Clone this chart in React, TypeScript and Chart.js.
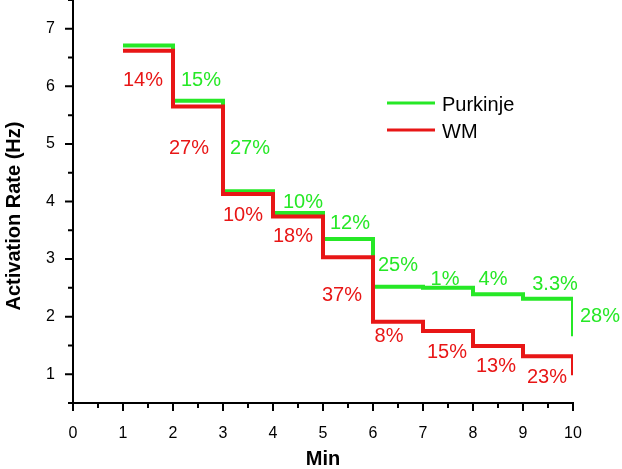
import React, { useEffect, useRef } from 'react';
import { Chart, registerables } from 'chart.js';

Chart.register(...registerables);

// ---- data ----
const minutes = [1, 2, 3, 4, 5, 6, 7, 8, 9, 10];
const purkinjeRates = [6.71, 5.75, 4.18, 3.8, 3.35, 2.52, 2.5, 2.39, 2.31, 1.66];
const wmRates = [6.62, 5.65, 4.13, 3.74, 3.03, 1.91, 1.75, 1.49, 1.31, 0.98];

const purkinjeDropLabels = ['15%', '27%', '10%', '12%', '25%', '1%', '4%', '3.3%', '28%'];
const purkinjeLabelMin = [2.56, 3.54, 4.6, 5.54, 6.5, 7.44, 8.4, 9.64, 10.54];
const purkinjeLabelRate = [6.13, 4.95, 4.01, 3.64, 2.91, 2.67, 2.67, 2.58, 2.04];

const wmDropLabels = ['14%', '27%', '10%', '18%', '37%', '8%', '15%', '13%', '23%'];
const wmLabelMin = [1.4, 2.32, 3.4, 4.4, 5.38, 6.32, 7.48, 8.46, 9.48];
const wmLabelRate = [6.13, 4.95, 3.78, 3.42, 2.39, 1.68, 1.4, 1.17, 0.98];

const xTickValues = [0, 1, 2, 3, 4, 5, 6, 7, 8, 9, 10];
const yTickValues = [1, 2, 3, 4, 5, 6, 7];
const xMinorValues = [0.5, 1.5, 2.5, 3.5, 4.5, 5.5, 6.5, 7.5, 8.5, 9.5];
const yMinorValues = [0.5, 1.5, 2.5, 3.5, 4.5, 5.5, 6.5, 7.5];

const seriesNames = ['Purkinje', 'WM'];
const xTitle = 'Min';
const yTitle = 'Activation Rate (Hz)';

const GREEN = 'rgb(38, 232, 38)';
const RED = 'rgb(232, 22, 22)';
const FONT = "'Liberation Sans', Arial, Helvetica, sans-serif";

const decorPlugin = {
  id: 'decor',
  afterDatasetsDraw(chart: any) {
    const { ctx } = chart;
    const xs = chart.scales.x;
    const ys = chart.scales.y;
    ctx.save();

    // percent labels
    ctx.font = `20px ${FONT}`;
    ctx.textAlign = 'center';
    ctx.textBaseline = 'alphabetic';
    const drawSet = (texts: string[], mx: number[], my: number[], color: string) => {
      ctx.fillStyle = color;
      texts.forEach((t, i) => {
        const px = xs.getPixelForValue(mx[i]);
        const py = ys.getPixelForValue(my[i]);
        ctx.fillText(t, px, py + 7.2);
      });
    };
    drawSet(purkinjeDropLabels, purkinjeLabelMin, purkinjeLabelRate, GREEN);
    drawSet(wmDropLabels, wmLabelMin, wmLabelRate, RED);

    // axes
    ctx.strokeStyle = '#000';
    ctx.lineWidth = 2;
    const x0 = xs.getPixelForValue(0);
    const x1 = xs.getPixelForValue(10);
    const yTop = ys.getPixelForValue(7.5);
    const yBot = ys.getPixelForValue(0.5);
    ctx.beginPath();
    ctx.moveTo(x0, yTop);
    ctx.lineTo(x0, yBot + 1);
    ctx.moveTo(x0 - 1, yBot);
    ctx.lineTo(x1 + 1, yBot);
    ctx.stroke();

    ctx.beginPath();
    yTickValues.forEach((v) => {
      const p = ys.getPixelForValue(v);
      ctx.moveTo(x0, p);
      ctx.lineTo(x0 - 8, p);
    });
    yMinorValues.forEach((v) => {
      const p = ys.getPixelForValue(v);
      ctx.moveTo(x0, p);
      ctx.lineTo(x0 - 5, p);
    });
    xTickValues.forEach((v) => {
      const p = xs.getPixelForValue(v);
      ctx.moveTo(p, yBot);
      ctx.lineTo(p, yBot + 8);
    });
    xMinorValues.forEach((v) => {
      const p = xs.getPixelForValue(v);
      ctx.moveTo(p, yBot);
      ctx.lineTo(p, yBot + 5);
    });
    ctx.stroke();

    // legend
    const colors = [GREEN, RED];
    const legendY = [103, 130];
    ctx.lineWidth = 3;
    ctx.font = `20px ${FONT}`;
    ctx.textAlign = 'left';
    ctx.fillStyle = '#000';
    seriesNames.forEach((name, i) => {
      ctx.strokeStyle = colors[i];
      ctx.beginPath();
      ctx.moveTo(387, legendY[i]);
      ctx.lineTo(435, legendY[i]);
      ctx.stroke();
      ctx.fillText(name, 442, legendY[i] + 8);
    });

    // axis titles
    ctx.font = `bold 20px ${FONT}`;
    ctx.textAlign = 'center';
    ctx.fillText(xTitle, (x0 + x1) / 2, 465);
    ctx.translate(19.5, 216);
    ctx.rotate(-Math.PI / 2);
    ctx.fillText(yTitle, 0, 0);
    ctx.restore();
  },
};

export default function App() {
  const ref = useRef<HTMLCanvasElement>(null);
  useEffect(() => {
    if (!ref.current) return;
    const chart = new Chart(ref.current, {
      type: 'line',
      data: {
        datasets: [
          {
            label: seriesNames[0],
            data: minutes.map((m, i) => ({ x: m, y: purkinjeRates[i] })),
            borderColor: GREEN,
            borderWidth: 4,
            stepped: 'before',
            pointRadius: 0,
            fill: false,
            borderJoinStyle: 'miter',
            borderCapStyle: 'butt',
            order: 1,
          },
          {
            label: seriesNames[1],
            data: minutes.map((m, i) => ({ x: m, y: wmRates[i] })),
            borderColor: RED,
            borderWidth: 4,
            stepped: 'before',
            pointRadius: 0,
            fill: false,
            borderJoinStyle: 'miter',
            borderCapStyle: 'butt',
            order: 0,
          },
        ],
      },
      options: {
        responsive: false,
        animation: false,
        layout: { padding: { left: 0, right: 49, top: 0, bottom: 0 } },
        plugins: { legend: { display: false }, tooltip: { enabled: false } },
        scales: {
          x: {
            type: 'linear',
            min: 0,
            max: 10,
            grid: { display: false },
            border: { display: false },
            ticks: {
              color: '#000',
              font: { family: FONT, size: 16 },
              padding: 13,
              maxRotation: 0,
              autoSkip: false,
            },
            afterBuildTicks: (s: any) => {
              s.ticks = xTickValues.map((v) => ({ value: v }));
            },
            afterFit: (s: any) => {
              s.height = 66;
              s.paddingLeft = 0;
              s.paddingRight = 0;
            },
          },
          y: {
            type: 'linear',
            min: 0.5,
            max: 7.5,
            grid: { display: false },
            border: { display: false },
            ticks: {
              color: '#000',
              font: { family: FONT, size: 16 },
              padding: 10,
              autoSkip: false,
            },
            afterBuildTicks: (s: any) => {
              s.ticks = yTickValues.map((v) => ({ value: v }));
            },
            afterFit: (s: any) => {
              s.width = 73;
              s.paddingTop = 0;
              s.paddingBottom = 0;
            },
          },
        },
      } as any,
      plugins: [decorPlugin],
    });
    return () => chart.destroy();
  }, []);
  return (
    <div style={{ position: 'fixed', left: 0, top: 0, width: 622, height: 469, background: '#fff' }}>
      <canvas ref={ref} width={622} height={469} style={{ display: 'block' }} />
    </div>
  );
}
